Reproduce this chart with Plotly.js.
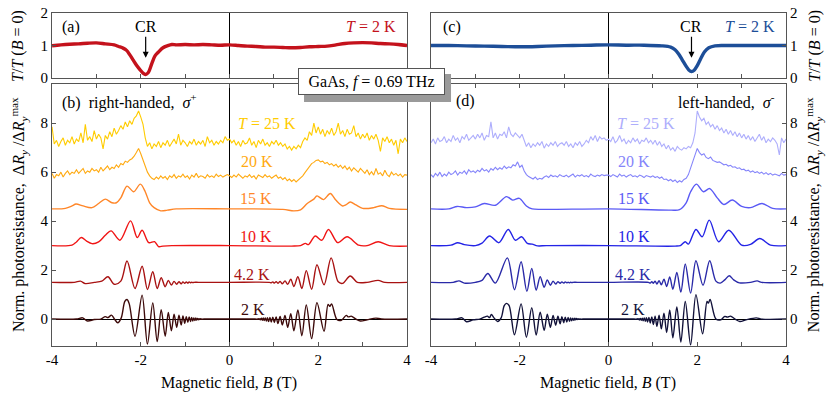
<!DOCTYPE html>
<html>
<head>
<meta charset="utf-8">
<script src="https://cdn.plot.ly/plotly-3.0.1.min.js"></script>
<style>body{margin:0;background:#fff}</style>
</head>
<body>
<div id="myDiv" style="width:830px;height:394px"></div>
<script>
// transmission at T = 2 K, panels (a) and (c)
var Ba = [-4,-3.8,-3.6,-3.4,-3.2,-3.0,-2.8,-2.6,-2.5,-2.4,-2.32,-2.25,-2.17,-2.1,-2.02,-1.95,-1.89,-1.83,-1.75,-1.68,-1.6,-1.5,-1.4,-1.3,-1.2,-1.0,-0.8,-0.6,-0.4,-0.2,0,0.2,0.4,0.6,0.8,1.0,1.2,1.4,1.6,1.8,2.0,2.2,2.4,2.6,2.8,3.0,3.2,3.4,3.6,3.8,4];
var Ta = [0.99,1.02,1.04,1.05,1.07,1.08,1.05,1.02,0.97,0.92,0.85,0.72,0.55,0.4,0.26,0.15,0.11,0.17,0.45,0.68,0.8,0.93,0.99,1.03,1.02,1.03,1.02,1.03,1.02,1.01,1.02,1.0,0.98,0.97,0.95,0.95,0.94,0.93,0.94,0.96,0.97,0.98,1.02,1.06,1.08,1.09,1.08,1.06,1.05,1.03,1.0];
var Bc = [-4,-3.6,-3.2,-2.8,-2.4,-2.0,-1.6,-1.2,-0.8,-0.4,0,0.4,0.8,1.2,1.4,1.5,1.58,1.66,1.74,1.81,1.87,1.93,2.0,2.08,2.16,2.26,2.4,2.6,3.0,3.5,4];
var Tc = [1.0,1.0,0.99,0.98,0.97,0.96,0.97,0.99,1.0,1.01,1.02,1.01,1.01,0.99,0.95,0.87,0.74,0.56,0.38,0.25,0.2,0.24,0.38,0.6,0.8,0.93,0.99,1.0,1.0,1.0,1.0];

// noisy curves, one value every 0.05 T from -4 to 4 (20 per row)
var R25b = [
  7.85,7.15,7.30,7.05,7.25,7.40,7.10,7.30,7.20,7.45,7.15,7.35,7.25,7.60,7.20,7.95,7.30,7.45,7.25,7.70,
  7.35,7.55,7.40,6.95,7.50,7.35,7.65,7.45,7.80,7.55,7.70,7.90,7.75,8.05,7.85,8.10,7.95,8.20,8.30,8.50,
  8.25,7.95,7.40,7.05,7.20,6.95,7.15,7.05,7.25,7.00,7.20,7.10,7.30,7.05,7.20,7.35,7.15,7.55,7.10,7.30,
  7.20,7.05,7.25,7.15,7.35,7.10,7.25,7.15,7.30,7.05,7.45,7.20,7.30,7.10,7.25,7.15,7.30,7.20,7.45,7.30,
  7.35,7.20,7.30,7.10,7.25,7.05,7.30,7.15,7.20,7.40,7.10,7.25,7.00,7.30,7.15,7.35,7.10,7.20,7.05,7.25,
  7.15,7.30,7.10,7.20,7.05,7.15,6.95,7.05,6.90,7.05,6.95,7.10,7.00,7.25,7.40,7.30,7.65,7.50,8.00,7.60,
  7.85,7.55,7.75,7.45,7.70,7.55,7.80,7.50,7.65,8.00,7.55,7.70,7.45,7.75,7.55,7.60,7.90,7.45,7.60,7.35,
  7.55,7.40,7.60,7.30,7.50,7.35,7.55,7.30,6.85,7.40,7.25,7.45,7.20,7.35,7.10,7.30,6.75,7.35,7.20,7.40,
  7.25];
var R20b = [
  5.95,5.75,5.90,5.85,6.00,5.80,5.95,6.05,5.90,6.00,5.95,6.10,5.95,6.05,6.15,5.95,6.05,6.00,6.15,6.05,
  6.10,6.00,6.20,6.05,6.15,6.25,6.10,6.20,6.15,6.30,6.20,6.35,6.30,6.45,6.40,6.50,6.55,6.65,6.80,6.97,
  6.75,6.50,6.25,6.00,5.85,5.75,5.70,5.80,5.72,5.85,5.75,5.82,5.70,5.85,5.78,5.90,5.75,5.85,5.80,5.92,
  5.78,5.85,5.72,5.88,5.80,5.95,5.78,5.85,5.82,5.75,5.90,5.80,5.85,5.78,5.92,5.82,5.88,5.80,5.85,5.90,
  5.85,5.78,5.88,5.80,5.92,5.82,5.75,5.85,5.80,5.90,5.78,5.85,5.72,5.88,5.82,5.78,5.90,5.80,5.85,5.75,
  5.82,5.88,5.75,5.80,5.70,5.78,5.65,5.72,5.62,5.70,5.60,5.68,5.75,5.85,5.98,6.10,6.25,6.35,6.40,6.48,
  6.50,6.42,6.45,6.35,6.40,6.30,6.35,6.25,6.32,6.20,6.28,6.15,6.25,6.10,6.20,6.05,6.18,6.10,6.00,6.15,
  6.05,5.95,6.10,5.90,6.02,5.88,6.15,5.92,5.98,5.85,6.08,5.90,5.82,6.00,5.88,5.95,5.85,5.92,5.80,5.90,
  5.88];
var R25d = [
  7.20,7.35,7.15,7.40,7.25,7.30,7.45,7.20,7.35,7.25,7.50,7.30,7.40,7.20,7.45,7.35,7.55,7.30,7.40,7.50,
  7.35,7.55,7.40,7.60,7.30,7.50,7.45,8.05,7.40,7.60,7.35,7.55,7.50,7.65,7.40,7.85,7.55,7.45,7.60,7.50,
  7.40,7.55,7.25,7.05,7.20,7.00,7.15,7.05,7.20,7.10,7.25,6.98,7.15,7.05,7.20,7.10,7.25,7.05,7.15,7.20,
  7.10,7.25,7.05,7.15,7.00,7.20,7.10,7.25,7.05,7.15,7.30,7.20,7.45,7.30,7.50,7.25,7.45,7.35,7.40,7.30,
  7.35,7.25,7.45,7.20,7.30,7.50,7.25,7.35,7.15,7.30,7.20,7.40,7.25,7.35,7.15,7.30,7.25,7.40,7.20,7.30,
  7.15,7.30,7.10,7.25,7.05,7.15,6.95,7.10,6.90,7.00,6.85,7.05,6.95,6.90,7.00,6.95,7.05,7.00,7.20,7.60,
  8.50,8.25,8.10,8.20,7.95,8.05,7.85,7.95,7.75,7.90,7.70,7.80,7.60,7.75,7.55,7.70,7.50,7.65,7.45,7.60,
  7.40,7.55,7.35,7.50,7.30,7.45,7.25,7.40,7.55,7.30,7.45,7.20,7.35,7.25,7.40,7.30,7.15,6.70,7.40,7.20,
  7.35];
var R20d = [
  5.90,5.80,5.95,5.85,6.00,5.82,5.92,5.85,6.00,5.90,5.95,6.05,5.88,6.00,5.95,6.05,5.92,6.10,6.00,6.05,
  5.98,6.08,6.02,6.15,6.05,6.10,6.00,6.15,6.08,6.20,6.10,6.18,6.12,6.25,6.15,6.22,6.18,6.30,6.25,6.42,
  6.20,6.28,6.05,5.90,5.82,5.78,5.72,5.80,5.70,5.75,5.72,5.80,5.85,5.78,5.88,5.82,5.85,5.80,5.90,5.84,
  5.82,5.88,5.80,5.86,5.92,5.80,5.88,5.84,5.90,5.82,5.86,5.80,5.92,5.85,5.82,5.88,5.84,5.90,5.86,5.88,
  5.88,5.82,5.90,5.85,5.80,5.92,5.84,5.88,5.80,5.86,5.90,5.82,5.85,5.80,5.88,5.84,5.78,5.86,5.82,5.80,
  5.85,5.78,5.82,5.75,5.80,5.70,5.72,5.65,5.70,5.62,5.68,5.58,5.65,5.60,5.70,5.75,5.90,6.15,6.40,6.70,
  6.97,6.80,6.70,6.75,6.60,6.55,6.62,6.48,6.45,6.40,6.42,6.35,6.30,6.32,6.25,6.28,6.20,6.22,6.15,6.18,
  6.10,6.12,6.05,6.08,6.00,6.05,5.98,6.02,5.95,6.00,5.92,5.98,5.90,5.95,5.88,5.92,5.90,5.85,5.95,5.88,
  5.90];

// smooth curves, right-handed (b)
var B15b = [-4,-3.7,-3.55,-3.46,-3.3,-3.1,-2.95,-2.8,-2.65,-2.55,-2.45,-2.31,-2.16,-2.01,-1.9,-1.8,-1.7,-1.55,-1.4,-1.2,0,1.2,1.45,1.6,1.75,1.9,1.97,2.12,2.27,2.4,2.55,2.62,2.72,2.85,3.0,3.25,3.43,3.6,4];
var R15b = [4.50,4.52,4.62,4.70,4.62,4.55,4.72,4.90,4.75,4.75,4.95,5.43,5.20,5.51,5.20,4.75,4.55,4.42,4.45,4.50,4.50,4.48,4.42,4.46,4.72,4.90,5.03,4.88,5.13,4.85,4.62,4.66,4.78,4.66,4.52,4.55,4.63,4.52,4.48];
var B10b = [-4,-3.55,-3.45,-3.34,-3.22,-3.1,-2.95,-2.8,-2.67,-2.47,-2.23,-2.08,-1.97,-1.82,-1.69,-1.6,-1.5,-1.3,0,1.4,1.6,1.71,1.78,1.93,2.08,2.23,2.44,2.65,2.91,3.1,3.35,3.6,4];
var R10b = [3.0,3.02,3.15,3.33,3.18,3.08,3.15,3.42,3.60,3.22,4.01,3.33,3.63,3.12,3.16,2.96,2.98,3.0,3.0,2.98,3.0,3.09,3.04,3.39,3.22,3.66,3.12,3.36,3.02,3.0,3.16,3.0,2.98];
var B4b = [-4,-3.5,-3.36,-3.25,-3.05,-2.88,-2.74,-2.6,-2.45,-2.31,-2.13,-1.97,-1.85,-1.73,-1.63,-1.54,-1.45,-1.38,-1.31,-1.25,-1.19,-1.14,-1.09,-1.05,-1.01,-0.975,-0.94,-0.91,-0.88,-0.855,-0.83,-0.8,-0.7,0,
  0.9,0.94,0.975,1.01,1.05,1.09,1.14,1.19,1.25,1.31,1.38,1.45,1.54,1.63,1.73,1.85,1.97,2.13,2.29,2.45,2.55,2.72,2.88,3.1,3.35,3.5,4];
var R4b = [1.5,1.5,1.55,1.45,1.5,1.55,1.73,1.42,1.55,2.37,1.25,2.16,1.21,1.93,1.25,1.69,1.32,1.58,1.39,1.54,1.42,1.53,1.44,1.52,1.46,1.52,1.47,1.52,1.48,1.51,1.49,1.5,1.5,1.5,
  1.5,1.48,1.52,1.47,1.53,1.46,1.54,1.44,1.56,1.42,1.63,1.33,1.73,1.25,1.98,1.22,2.22,1.4,2.5,1.52,1.46,1.76,1.5,1.5,1.58,1.5,1.5];
var B2b = [-4,-3.45,-3.31,-3.2,-3.05,-2.9,-2.8,-2.74,-2.66,-2.6,-2.52,-2.44,-2.36,-2.31,-2.26,-2.13,-1.97,-1.85,-1.73,-1.63,-1.54,-1.45,-1.38,-1.31,-1.25,-1.19,-1.14,-1.09,-1.05,-1.01,-0.975,-0.94,-0.91,-0.88,-0.855,-0.83,-0.805,-0.78,-0.76,-0.74,-0.72,-0.70,-0.685,-0.67,-0.655,-0.64,-0.625,-0.61,-0.58,0,
  0.58,0.61,0.625,0.64,0.655,0.67,0.685,0.70,0.72,0.74,0.76,0.78,0.805,0.83,0.855,0.88,0.91,0.94,0.975,1.01,1.05,1.09,1.14,1.19,1.25,1.31,1.38,1.45,1.54,1.63,1.73,1.85,1.97,2.13,2.22,2.26,2.30,2.42,2.52,2.63,2.68,2.74,2.85,2.95,3.1,3.3,3.42,4];
var R2b = [0,0,0.05,-0.08,-0.02,0,0.1,0.06,0.16,0.02,-0.15,0.05,0.72,0.80,0.62,-0.70,0.98,-1.02,0.66,-0.92,0.38,-0.70,0.27,-0.48,0.20,-0.34,0.16,-0.24,0.13,-0.17,0.10,-0.13,0.09,-0.10,0.07,-0.08,0.05,-0.06,0.045,-0.04,0.03,-0.025,0.02,-0.015,0.012,-0.01,0.007,-0.005,0,0,
  0,-0.005,0.007,-0.01,0.012,-0.015,0.02,-0.03,0.035,-0.045,0.05,-0.06,0.05,-0.08,0.06,-0.1,0.07,-0.12,0.08,-0.14,0.09,-0.18,0.11,-0.24,0.15,-0.34,0.22,-0.48,0.37,-0.68,0.58,-0.80,0.67,-0.50,0.60,0.52,0.62,-0.02,-0.05,0.15,0.09,0.12,0.0,-0.08,-0.03,0.04,0,0];

// smooth curves, left-handed (d)
var B15d = [-4,-3.6,-3.41,-3.2,-3.0,-2.8,-2.55,-2.3,-2.16,-2.01,-1.85,-1.72,-1.5,0,1.4,1.6,1.75,1.85,1.98,2.14,2.28,2.45,2.6,2.79,3.0,3.2,3.46,3.7,4];
var R15d = [4.5,4.5,4.6,4.55,4.58,4.72,4.65,5.0,4.86,4.93,4.62,4.5,4.48,4.5,4.45,4.47,4.75,5.2,5.51,5.2,5.33,4.95,4.68,4.86,4.6,4.55,4.72,4.52,4.5];
var B10d = [-4,-3.55,-3.4,-3.25,-3.0,-2.85,-2.68,-2.47,-2.26,-2.1,-1.96,-1.83,-1.72,-1.6,-1.4,0,1.5,1.62,1.73,1.8,1.97,2.11,2.27,2.48,2.71,3.0,3.2,3.41,3.65,4];
var R10d = [3.0,3.02,3.12,3.04,3.0,3.1,3.39,3.12,3.66,3.22,3.36,3.09,3.06,2.99,3.0,3.0,2.98,3.0,3.16,3.06,3.66,3.36,4.04,3.16,3.63,3.02,3.05,3.29,3.02,3.0];
var B4d = [-4,-3.5,-3.37,-3.25,-3.0,-2.85,-2.72,-2.55,-2.28,-2.12,-1.97,-1.84,-1.73,-1.63,-1.54,-1.45,-1.38,-1.31,-1.25,-1.19,-1.14,-1.09,-1.05,-1.01,-0.975,-0.94,-0.91,-0.88,-0.855,-0.83,-0.8,-0.7,0,
  0.9,0.94,0.975,1.01,1.05,1.09,1.14,1.19,1.25,1.31,1.38,1.45,1.54,1.63,1.73,1.85,1.97,2.13,2.28,2.42,2.52,2.62,2.72,2.82,2.95,3.2,3.35,3.45,4];
var R4d = [1.5,1.5,1.56,1.47,1.5,1.58,1.86,1.47,2.5,1.2,2.34,1.13,2.07,1.18,1.73,1.3,1.6,1.38,1.55,1.43,1.53,1.46,1.52,1.47,1.52,1.48,1.51,1.48,1.51,1.49,1.5,1.5,1.5,
  1.5,1.47,1.53,1.46,1.55,1.43,1.57,1.4,1.63,1.33,1.72,1.22,1.9,1.1,2.25,1.06,2.38,1.38,2.38,1.55,1.47,1.6,1.77,1.6,1.48,1.5,1.56,1.5,1.5];
var B2d = [-4,-3.45,-3.3,-3.2,-3.05,-2.9,-2.8,-2.73,-2.68,-2.64,-2.58,-2.5,-2.42,-2.35,-2.3,-2.24,-2.12,-1.97,-1.85,-1.73,-1.63,-1.54,-1.45,-1.38,-1.31,-1.25,-1.19,-1.14,-1.09,-1.05,-1.01,-0.975,-0.94,-0.91,-0.88,-0.855,-0.83,-0.805,-0.78,-0.76,-0.74,-0.72,-0.70,-0.685,-0.67,-0.655,-0.64,-0.625,-0.61,-0.58,0,
  0.58,0.61,0.625,0.64,0.655,0.67,0.685,0.70,0.72,0.74,0.76,0.78,0.805,0.83,0.855,0.88,0.91,0.94,0.975,1.01,1.05,1.09,1.14,1.19,1.25,1.31,1.38,1.45,1.54,1.63,1.73,1.85,1.97,2.12,2.22,2.25,2.29,2.42,2.53,2.62,2.68,2.75,2.85,2.96,3.1,3.33,3.45,4];
var R2d = [0,0,0.05,-0.11,-0.03,0,0.08,0.12,0.06,0.19,0.05,-0.1,0.05,0.55,0.64,0.55,-0.64,0.62,-0.74,0.46,-0.65,0.28,-0.46,0.2,-0.34,0.15,-0.25,0.12,-0.19,0.1,-0.15,0.08,-0.12,0.07,-0.09,0.05,-0.07,0.04,-0.05,0.035,-0.03,0.025,-0.02,0.015,-0.012,0.01,-0.008,0.006,-0.004,0,0,
  0,-0.006,0.008,-0.012,0.012,-0.02,0.02,-0.035,0.03,-0.05,0.04,-0.07,0.05,-0.09,0.06,-0.12,0.07,-0.16,0.09,-0.22,0.12,-0.3,0.16,-0.4,0.24,-0.55,0.37,-0.76,0.5,-0.94,0.72,-1.05,1.0,-0.6,0.72,0.65,0.8,0.0,-0.03,0.11,0.08,0.12,0.0,-0.1,-0.03,0.05,0,0];

var tempLabels = ['<i>T</i> = 25 K', '20 K', '15 K', '10 K', '4.2 K', '2 K'];
var labelY = [8.0, 6.42, 4.93, 3.39, 1.84, 0.4];

var colorsB = ['#ffcc00', '#ffaa11', '#ff8628', '#f01414', '#a81212', '#3d0a0a'];
var colorsD = ['#aeaefc', '#8585fa', '#5a5af5', '#2424e6', '#2a2aa8', '#12123a'];

function fieldGrid(n) {
  var b = [];
  for (var i = 0; i < n; i++) {
    b.push(Math.round((-4 + 0.05 * i) * 100) / 100);
  }
  return b;
}

function curve(x, y, xa, ya, color, smooth, w) {
  return {
    x: x, y: y, xaxis: xa, yaxis: ya,
    type: 'scatter', mode: 'lines',
    line: {color: color, width: w || 1.4, shape: smooth ? 'spline' : 'linear', smoothing: 0.9},
    hoverinfo: 'skip'
  };
}

var data = [
  curve(Ba, Ta, 'x', 'y', '#c4121c', true, 3.4),
  curve(Bc, Tc, 'x3', 'y3', '#1d4e98', true, 3.4),
  curve(fieldGrid(R25b.length), R25b, 'x2', 'y2', colorsB[0], false, 1.1),
  curve(fieldGrid(R20b.length), R20b, 'x2', 'y2', colorsB[1], false, 1.1),
  curve(B15b, R15b, 'x2', 'y2', colorsB[2], true),
  curve(B10b, R10b, 'x2', 'y2', colorsB[3], true),
  curve(B4b, R4b, 'x2', 'y2', colorsB[4], true),
  curve(B2b, R2b, 'x2', 'y2', colorsB[5], true),
  curve(fieldGrid(R25d.length), R25d, 'x4', 'y4', colorsD[0], false, 1.1),
  curve(fieldGrid(R20d.length), R20d, 'x4', 'y4', colorsD[1], false, 1.1),
  curve(B15d, R15d, 'x4', 'y4', colorsD[2], true),
  curve(B10d, R10d, 'x4', 'y4', colorsD[3], true),
  curve(B4d, R4d, 'x4', 'y4', colorsD[4], true),
  curve(B2d, R2d, 'x4', 'y4', colorsD[5], true)
];

var fnt = 'Liberation Serif';
var frame = '#555';
var leftDom = [0.0627, 0.4904], rightDom = [0.5193, 0.947];
var topDom = [0.802, 0.967], botDom = [0.1218, 0.7868];

function xAxis(dom, anchor, labels) {
  return {
    domain: dom, anchor: anchor, range: [-4, 4],
    tickvals: [-4, -2, 0, 2, 4], ticktext: ['-4', '-2', '0', '2', '4'],
    showticklabels: labels,
    ticks: 'inside', ticklen: 4, tickcolor: frame,
    minor: {dtick: 1, ticks: 'inside', ticklen: 4, tickcolor: frame, showgrid: false},
    showline: true, linecolor: frame, linewidth: 1, mirror: labels ? 'ticks' : true,
    showgrid: false, zeroline: true, zerolinecolor: '#000', zerolinewidth: 1,
    tickfont: {family: fnt, size: 15, color: '#000'}, fixedrange: true
  };
}
function yAxis(dom, anchor, side, range, vals, zero) {
  return {
    domain: dom, anchor: anchor, side: side, range: range, tickvals: vals,
    ticks: 'inside', ticklen: 4, tickcolor: frame,
    showline: true, linecolor: frame, linewidth: 1, mirror: true,
    showgrid: false, zeroline: zero, zerolinecolor: '#000', zerolinewidth: 1,
    tickfont: {family: fnt, size: 15, color: '#000'}, fixedrange: true
  };
}

var ann = [];
function txt(text, x, y, xr, yr, anchor, color) {
  ann.push({text: text, x: x, y: y, xref: xr, yref: yr, xanchor: anchor, yanchor: 'middle',
            showarrow: false, font: {family: fnt, color: color || '#000', size: 16}});
}
function vtxt(text, x, y) {
  ann.push({text: text, x: x, y: y, xref: 'paper', yref: 'paper', xanchor: 'center', yanchor: 'middle',
            textangle: -90, showarrow: false, font: {family: fnt, size: 16, color: '#000'}});
}

// panel letters, headers
txt('(a)', -3.82, 1.58, 'x', 'y', 'left');
txt('<i>T</i> = 2 K', 3.8, 1.58, 'x', 'y', 'right', '#c4121c');
txt('(c)', -3.78, 1.58, 'x3', 'y3', 'left');
txt('<i>T</i> = 2 K', 3.8, 1.58, 'x3', 'y3', 'right', '#1d4e98');
txt('(b)&nbsp;&nbsp;right-handed,&nbsp;&nbsp;<i>σ</i><sup>+</sup>', -3.82, 8.9, 'x2', 'y2', 'left');
txt('(d)', -3.48, 8.9, 'x4', 'y4', 'left');
txt('left-handed,&nbsp;&nbsp;<i>σ</i><sup>-</sup>', 3.8, 8.9, 'x4', 'y4', 'right');

var xsB = [0.15, 0.21, 0.19, 0.19, 0.05, 0.22];
var xsD = [0.14, 0.16, 0.16, 0.17, 0.11, 0.23];
for (var i = 0; i < tempLabels.length; i++) {
  txt(tempLabels[i], xsB[i], labelY[i], 'x2', 'y2', 'left', colorsB[i]);
  txt(tempLabels[i], xsD[i], labelY[i], 'x4', 'y4', 'left', colorsD[i]);
}

// CR arrows
ann.push({text: 'CR', x: -1.89, y: 0.62, xref: 'x', yref: 'y', showarrow: true, arrowhead: 2,
          arrowsize: 1, arrowwidth: 1.2, arrowcolor: '#000', ax: 0, ay: -31, font: {family: fnt, size: 16}});
ann.push({text: 'CR', x: 1.87, y: 0.62, xref: 'x3', yref: 'y3', showarrow: true, arrowhead: 2,
          arrowsize: 1, arrowwidth: 1.2, arrowcolor: '#000', ax: 0, ay: -31, font: {family: fnt, size: 16}});

// axis titles
var yTop = '<i>T</i>/<i>T</i> (<i>B</i> = 0)';
var yBot = 'Norm. photoresistance,&nbsp;&nbsp;Δ<i>R</i><sub><i>y</i></sub> /Δ<i>R</i><sub><i>y</i></sub><sup>max</sup>';
var xTit = 'Magnetic field, <i>B</i> (T)';
vtxt(yTop, 0.021, 0.8845);
vtxt(yBot, 0.022, 0.455);
vtxt(yTop, 0.981, 0.8845);
vtxt(yBot, 0.980, 0.455);
ann.push({text: xTit, x: 0.2765, y: 0.028, xref: 'paper', yref: 'paper', xanchor: 'center', yanchor: 'middle',
          showarrow: false, font: {family: fnt, size: 16}});
ann.push({text: xTit, x: 0.7325, y: 0.028, xref: 'paper', yref: 'paper', xanchor: 'center', yanchor: 'middle',
          showarrow: false, font: {family: fnt, size: 16}});

// sample box
ann.push({text: 'GaAs, <i>f</i> = 0.69 THz', x: 0.4476, y: 0.7931, xref: 'paper', yref: 'paper',
          xanchor: 'center', yanchor: 'middle',
          showarrow: false, bgcolor: '#fff', bordercolor: frame, borderwidth: 1, borderpad: 3,
          width: 139, height: 19, font: {family: fnt, size: 16}});

var layout = {
  width: 830, height: 394,
  margin: {l: 0, r: 0, t: 0, b: 0},
  paper_bgcolor: '#fff', plot_bgcolor: '#fff',
  showlegend: false,
  font: {family: fnt, size: 15, color: '#000'},
  xaxis: xAxis(leftDom, 'y', false),
  yaxis: yAxis(topDom, 'x', 'left', [0, 2], [0, 1, 2], false),
  xaxis2: xAxis(leftDom, 'y2', true),
  yaxis2: yAxis(botDom, 'x2', 'left', [-1.1, 9.6], [0, 2, 4, 6, 8], true),
  xaxis3: xAxis(rightDom, 'y3', false),
  yaxis3: yAxis(topDom, 'x3', 'right', [0, 2], [0, 1, 2], false),
  xaxis4: xAxis(rightDom, 'y4', true),
  yaxis4: yAxis(botDom, 'x4', 'right', [-1.1, 9.6], [0, 2, 4, 6, 8], true),
  shapes: [
    {type: 'rect', xref: 'paper', yref: 'paper', x0: 0.3663, x1: 0.5434, y0: 0.7411, y1: 0.8122,
     fillcolor: '#9a9a9a', line: {width: 0}, layer: 'above'}
  ],
  annotations: ann
};

Plotly.newPlot('myDiv', data, layout, {displayModeBar: false, staticPlot: true});
</script>
</body>
</html>
